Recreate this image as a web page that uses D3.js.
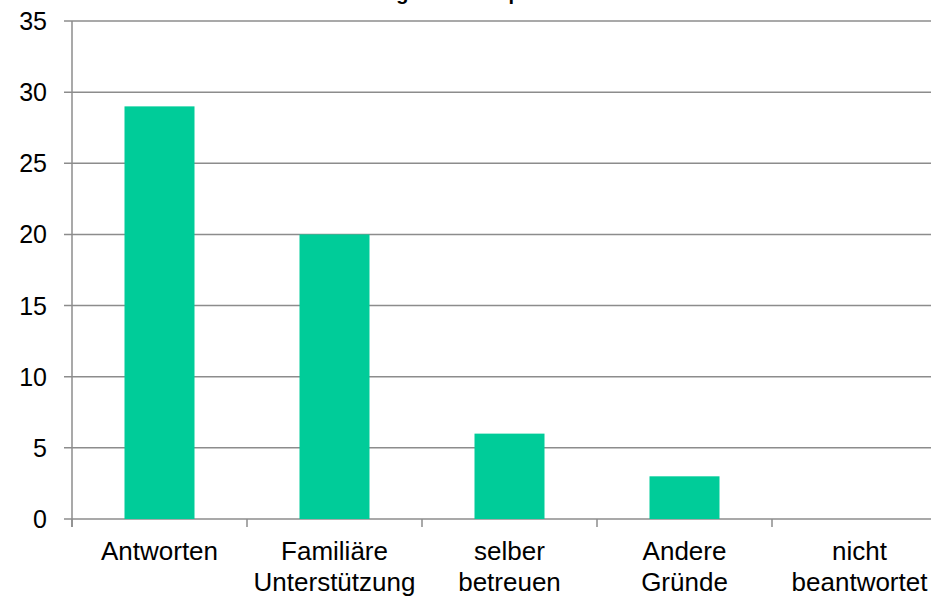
<!DOCTYPE html>
<html>
<head>
<meta charset="utf-8">
<script src="https://cdnjs.cloudflare.com/ajax/libs/d3/7.8.5/d3.min.js"></script>
<style>
  html, body { margin: 0; padding: 0; background: #fff; overflow: hidden; }
  text { font-family: "Liberation Sans", Arial, sans-serif; fill: #000; }
</style>
</head>
<body>
<div id="chart"></div>
<script>
const categories = [["Antworten"], ["Familiäre", "Unterstützung"], ["selber", "betreuen"], ["Andere", "Gründe"], ["nicht", "beantwortet"]]
const values = [29, 20, 6, 3, 0]
const yTicks = [0, 5, 10, 15, 20, 25, 30, 35]
const title = "Ablehnung eines Kitaplatzes"

const width = 931, height = 596
const margin = {top: 21, right: -16, bottom: 77, left: 72}

const svg = d3.select("#chart").append("svg")
  .attr("width", width).attr("height", height)

const x = d3.scaleBand()
  .domain(categories.map(d => d.join(" ")))
  .range([margin.left, width - margin.right])
  .paddingInner(0).paddingOuter(0)

const y = d3.scaleLinear().domain([0, 35]).range([height - margin.bottom, margin.top])

// grid
svg.append("g").selectAll("line").data(yTicks).enter().append("line")
  .attr("x1", margin.left - 8).attr("x2", width)
  .attr("y1", d => y(d)).attr("y2", d => y(d))
  .attr("stroke", "#8c8c8c").attr("stroke-width", 1.5)

// y labels
svg.append("g").selectAll("text").data(yTicks).enter().append("text")
  .attr("x", margin.left - 25).attr("y", d => y(d))
  .attr("dy", "0.36em").attr("text-anchor", "end")
  .attr("font-size", 25).text(d => d)

// bars
const bw = x.bandwidth() * 0.4
svg.append("g").selectAll("rect").data(values).enter().append("rect")
  .attr("x", (d, i) => x(categories[i].join(" ")) + (x.bandwidth() - bw) / 2)
  .attr("width", bw)
  .attr("y", d => y(d))
  .attr("height", d => y(0) - y(d))
  .attr("fill", "#00cc99")

// axes lines
svg.append("line")
  .attr("x1", margin.left).attr("x2", margin.left)
  .attr("y1", y(35)).attr("y2", y(0) + 8)
  .attr("stroke", "#8c8c8c").attr("stroke-width", 1.5)

const xTicks = categories.map(d => x(d.join(" "))).concat([x.range()[1]])
svg.append("g").selectAll("line").data(xTicks).enter().append("line")
  .attr("x1", d => d).attr("x2", d => d)
  .attr("y1", y(0)).attr("y2", y(0) + 8)
  .attr("stroke", "#8c8c8c").attr("stroke-width", 1.5)

// category labels
const lab = svg.append("g").selectAll("text").data(categories).enter().append("text")
  .attr("text-anchor", "middle").attr("font-size", 26)
  .attr("transform", d => "translate(" + (x(d.join(" ")) + x.bandwidth() / 2) + "," + (y(0) + 41) + ")")
lab.selectAll("tspan").data(d => d).enter().append("tspan")
  .attr("x", 0).attr("dy", (d, i) => i ? 31 : 0).text(d => d)

// title, cut off at the top as in the original
svg.append("text")
  .attr("x", 304).attr("y", 0)
  .attr("font-size", 20).attr("font-weight", "bold")
  .text(title)
</script>
</body>
</html>
